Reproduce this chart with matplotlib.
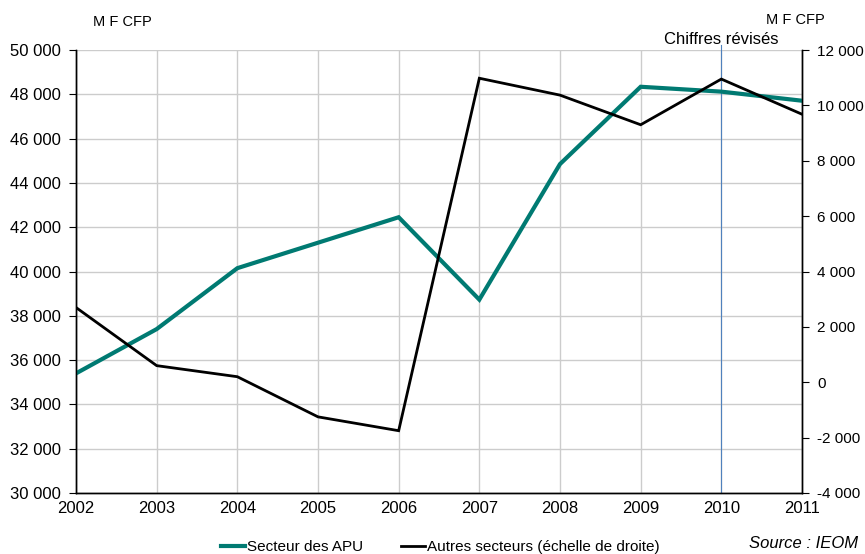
import matplotlib
matplotlib.use("Agg")
import matplotlib.pyplot as plt
from matplotlib import font_manager

# pick a narrow sans face if present
names = {f.name for f in font_manager.fontManager.ttflist}
family = ["Liberation Sans Narrow", "Liberation Sans", "DejaVu Sans"]
plt.rcParams["font.family"] = [f for f in family if f in names] or ["DejaVu Sans"]

years = [2002, 2003, 2004, 2005, 2006, 2007, 2008, 2009, 2010, 2011]
apu = [35400, 37400, 40150, 41300, 42450, 38730, 44850, 48340, 48120, 47710]
autres = [2700, 600, 200, -1250, -1750, 10980, 10370, 9300, 10950, 9680]
left_ticks = list(range(30000, 50001, 2000))
right_ticks = list(range(-4000, 12001, 2000))

def fmt(v):
    s = f"{abs(v):,}".replace(",", " ")
    return ("-" if v < 0 else "") + s

teal = "#007a72"

fig = plt.figure(figsize=(8.65, 5.54), dpi=100)
ax = fig.add_axes([76 / 865, 1 - 493 / 554, (802 - 76) / 865, (493 - 50) / 554])
ax2 = ax.twinx()

ax.plot(years, apu, color=teal, lw=3, solid_joinstyle="miter", zorder=3, label="Secteur des APU")
ax2.plot(years, autres, color="black", lw=2, solid_joinstyle="miter", zorder=3,
         label="Autres secteurs (échelle de droite)")

ax.set_xlim(2002, 2011)
ax.set_ylim(30000, 50000)
ax2.set_ylim(-4000, 12000)
ax.set_xticks(years)
ax.set_yticks(left_ticks)
ax.set_yticklabels([fmt(v) for v in left_ticks])
ax2.set_yticks(right_ticks)
ax2.set_yticklabels([fmt(v) for v in right_ticks])

ax.grid(True, color="#cccccc", lw=1)
ax.set_axisbelow(True)
for a in (ax, ax2):
    a.spines["top"].set_visible(False)
    for s in ("left", "right", "bottom"):
        a.spines[s].set_color("black")
        a.spines[s].set_linewidth(1)
ax.tick_params(axis="y", length=5, labelsize=12, pad=6)
ax2.tick_params(axis="y", length=5, labelsize=11, pad=6)
ax.tick_params(axis="x", length=0, labelsize=12, pad=6)

# revised figures marker
ax.axvline(2010, ymin=0, ymax=1.012, color="#4f81bd", lw=0.8, clip_on=False, zorder=2)
ax.text(2010, 50150, "Chiffres révisés", ha="center", va="bottom", fontsize=12)

fig.text(93 / 865, 1 - 22 / 554, "M F CFP", ha="left", va="center", fontsize=10.5)
fig.text(795 / 865, 1 - 20 / 554, "M F CFP", ha="center", va="center", fontsize=10.5)
fig.text(858 / 865, 1 - 543 / 554, "Source : IEOM", ha="right", va="center",
         fontsize=12, style="italic")

h1, l1 = ax.get_legend_handles_labels()
h2, l2 = ax2.get_legend_handles_labels()
fig.legend(h1 + h2, l1 + l2, loc="center", bbox_to_anchor=(440 / 865, 1 - 547 / 554),
           ncol=2, frameon=False, fontsize=11, handlelength=1.6, handletextpad=0.1,
           columnspacing=2.5)

fig.savefig("out.png", dpi=100)
